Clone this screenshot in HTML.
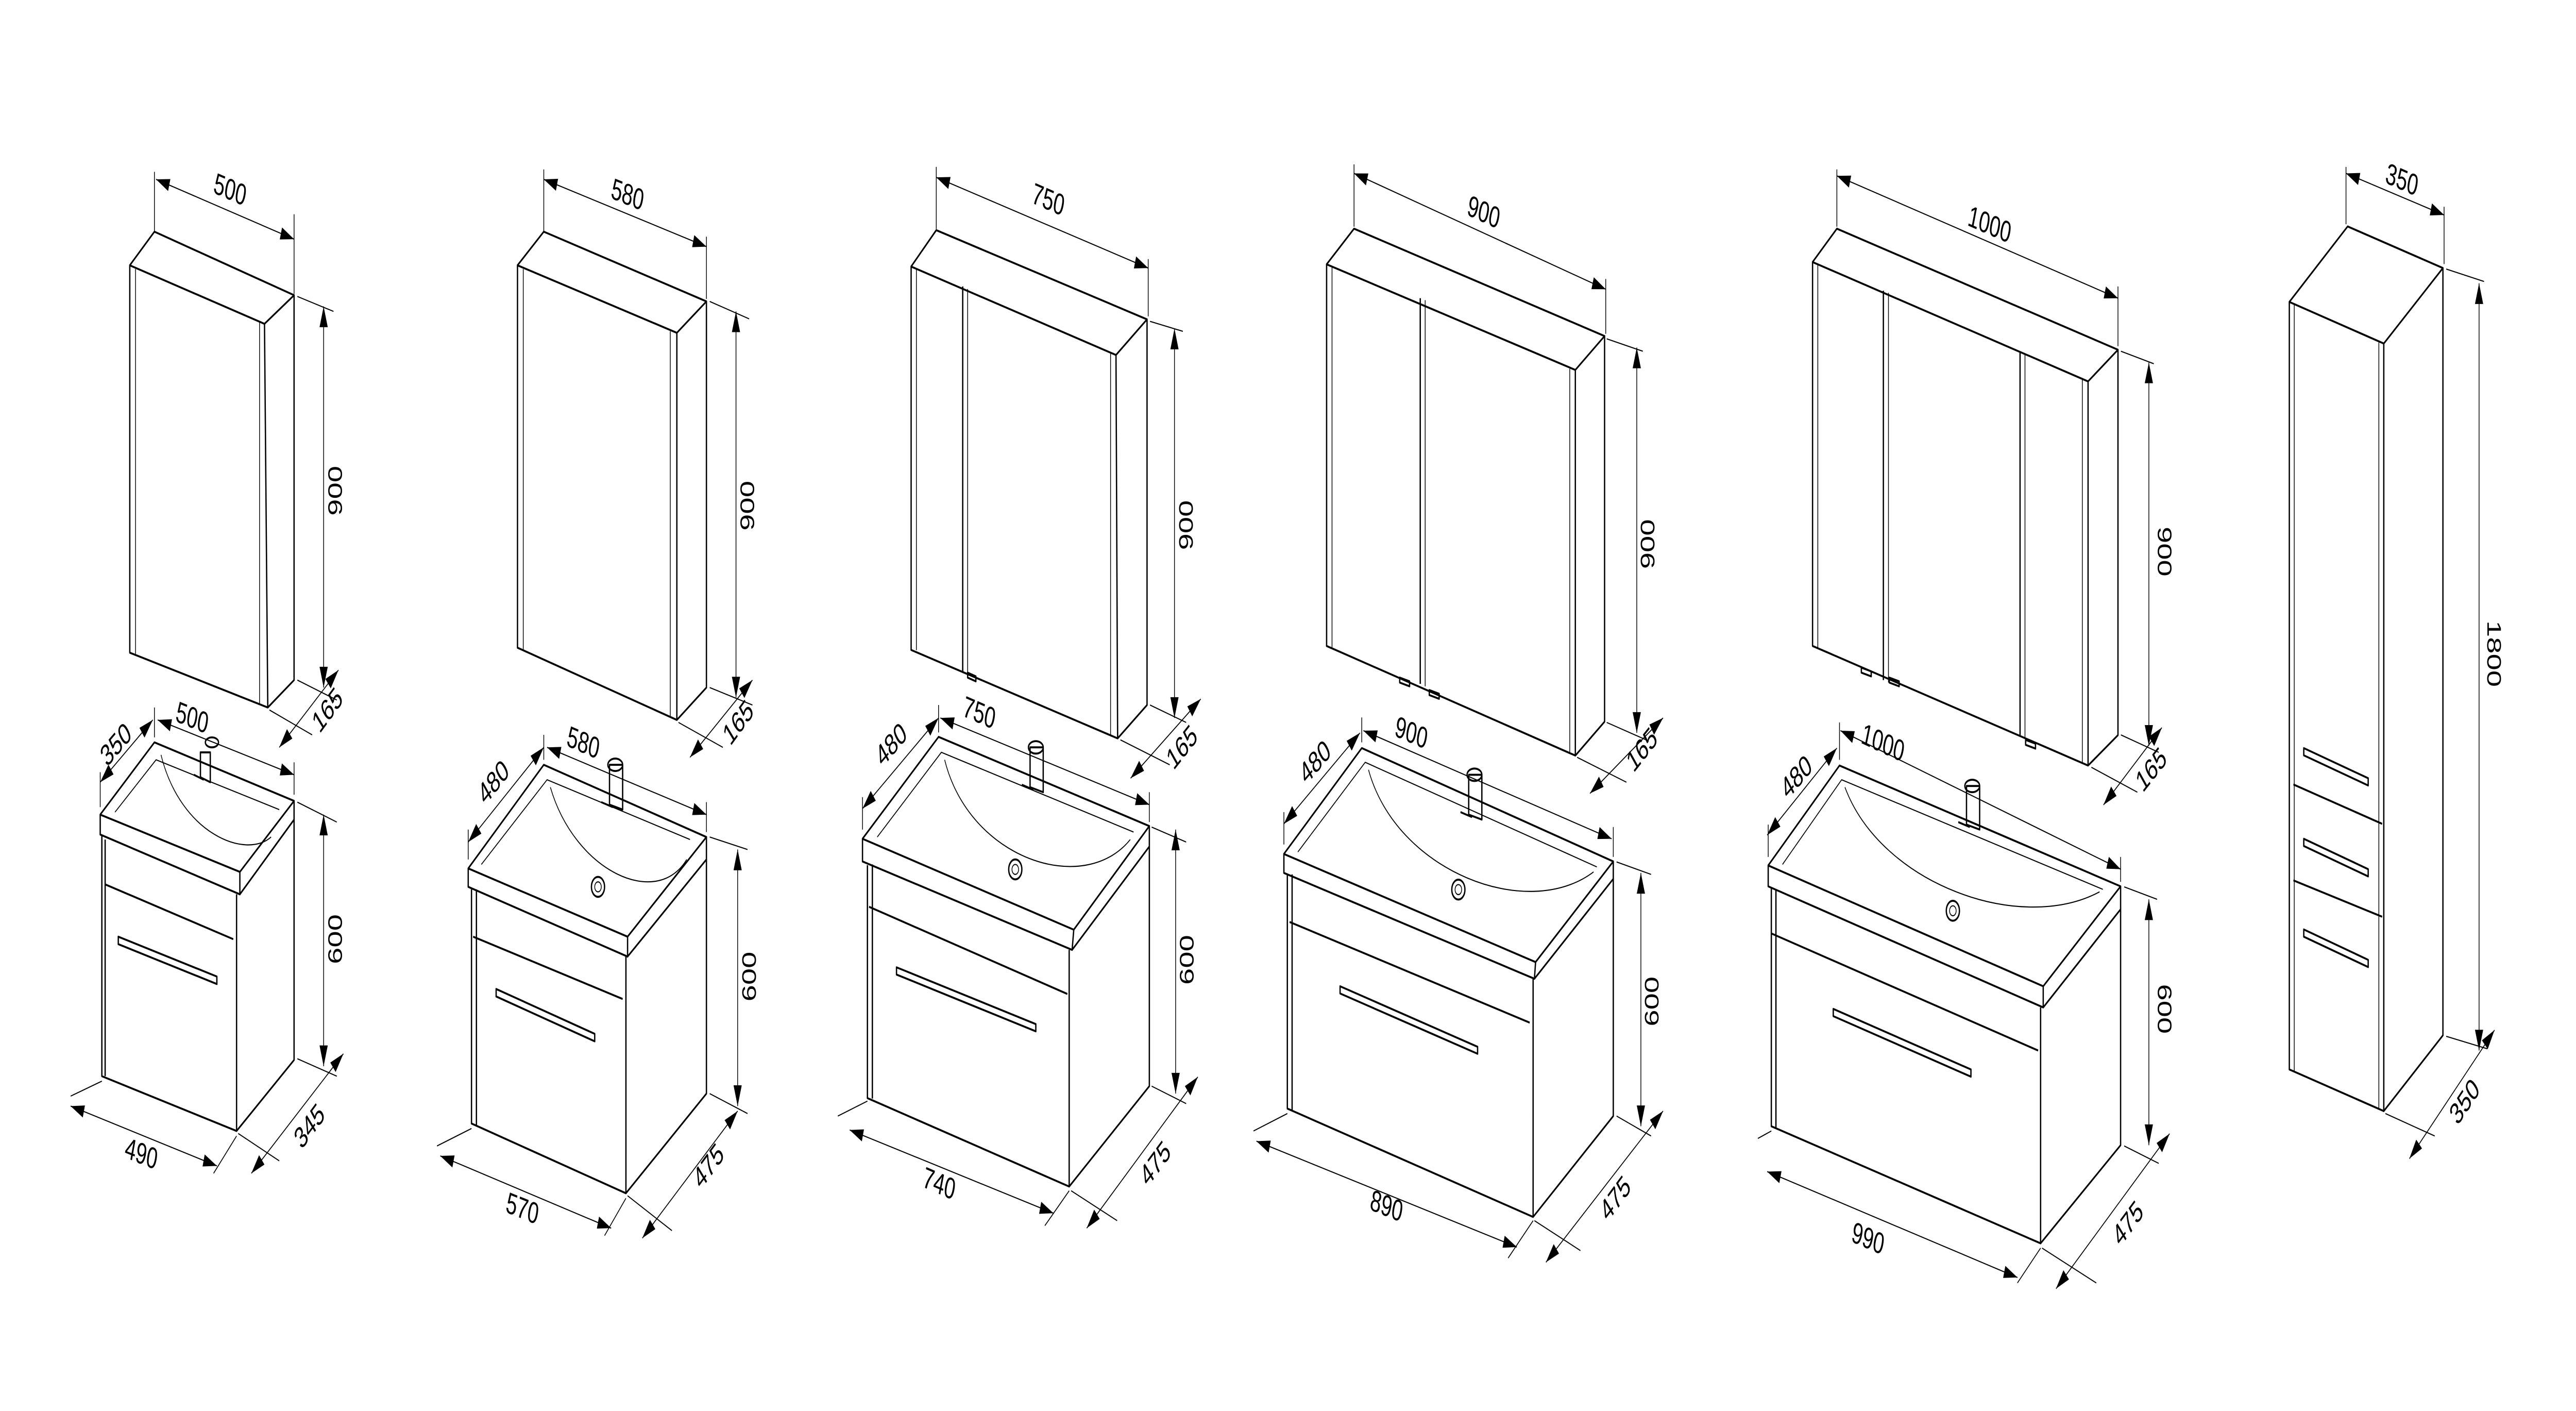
<!DOCTYPE html>
<html><head><meta charset="utf-8"><style>
html,body{margin:0;padding:0;background:#fff;width:100%;height:100%;overflow:hidden;}
svg{display:block;width:100vw;height:100vh;}
text{font-family:"Liberation Sans",sans-serif;font-size:12px;fill:#000;}
.o{fill:none;stroke:#000;stroke-width:0.8;stroke-linejoin:round;}
.t{fill:none;stroke:#000;stroke-width:0.45;}
.d{fill:none;stroke:#000;stroke-width:0.45;marker-start:url(#a);marker-end:url(#a);}
</style></head><body>
<svg viewBox="0 0 1568 566.4" preserveAspectRatio="none" xmlns="http://www.w3.org/2000/svg">
<defs><marker id="a" viewBox="0 0 10 6" refX="10" refY="3" markerWidth="9" markerHeight="5" markerUnits="userSpaceOnUse" orient="auto-start-reverse"><path d="M0,0 L10,3 L0,6 Z" fill="#000"/></marker></defs>
<rect width="1568" height="566.4" fill="#fff"/>

<!-- UNIT 1 mirror -->
<path class="o" d="M79,106.5 L161,130 L163,284 L79,262 Z M79,106.5 L94,93 L179,118.5 L161,130 M179,118.5 L179,273 L163,284"/>
<path class="t" d="M82.5,108 L82.5,262.5 M158,129 L158,283"/>
<path class="t" d="M94,93 L94,69 M179,118 L179,86 M181,119 L203,125 M181,273 L205,281 M164,285 L190,295"/>
<path class="d" d="M95,72 L179,96"/><text transform="translate(139,80) rotate(16)" text-anchor="middle">500</text>
<path class="d" d="M197,123 L197,276"/><text transform="translate(208,197) rotate(-90)" text-anchor="middle">900</text>
<path class="d" d="M170,300 L206,269"/><text transform="translate(202,288) rotate(-42)" text-anchor="middle">165</text>
<!-- UNIT 1 vanity -->
<path class="o" d="M61,327 L94,298 L179,321.5 L146,350 Z M61,327 L61,335 L146,359 L146,350 M146,359 L179,329 L179,321.5 M62,335 L62,432 L144,454 L144,359 M144,454 L179,425.5 L179,329 M64,355 L142,377 M64,337 L64,432"/>
<path class="t" d="M70,326 L95,305 L170,325 M98,303 C110,335 150,345 165,336"/>
<path class="o" d="M72,376 L132,392 L132,395 L72,379 Z"/>
<path class="o" d="M122,302 L122,312 L128,314 L128,302 Z M118,311 L124,313 M125,298 a4,2 0 1,0 8,0 a4,2 0 1,0 -8,0"/>
<path class="t" d="M61,324 L61,310 M94,296 L94,284 M179,319 L179,306 M181,322 L205,330 M181,425 L205,432 M62,434 L43,440 M144,456 L130,471 M145,455 L170,466"/>
<path class="d" d="M61,314 L93,289"/><text transform="translate(73,302) rotate(-38)" text-anchor="middle">350</text>
<path class="d" d="M96,289 L179,311"/><text transform="translate(116,292) rotate(15)" text-anchor="middle">500</text>
<path class="d" d="M197,327 L197,428"/><text transform="translate(208,377) rotate(-90)" text-anchor="middle">600</text>
<path class="d" d="M43,444 L132,468"/><text transform="translate(85,467) rotate(15)" text-anchor="middle">490</text>
<path class="d" d="M153,471 L209,423"/><text transform="translate(191,455) rotate(-42)" text-anchor="middle">345</text>

<!-- UNIT 2 mirror -->
<path class="o" d="M315,106.5 L412,133.6 L412,289 L315,260 Z M315,106.5 L331,93 L430,121 L412,133.6 M430,121 L430,276 L412,289"/>
<path class="t" d="M318.5,108 L318.5,261 M408,133 L408,288"/>
<path class="t" d="M331,93 L331,68 M430,120 L430,95 M432,121 L456,128 M432,276 L458,283 M413,290 L440,300"/>
<path class="d" d="M331,72 L430,99"/><text transform="translate(381,82) rotate(15)" text-anchor="middle">580</text>
<path class="d" d="M448,125 L448,280"/><text transform="translate(459,203) rotate(-90)" text-anchor="middle">900</text>
<path class="d" d="M420,304 L458,273"/><text transform="translate(452,293) rotate(-42)" text-anchor="middle">165</text>
<!-- UNIT 2 vanity -->
<path class="o" d="M285,348.6 L331,307 L430,336 L382,376 Z M285,348.6 L285,356 L382,384 L382,376 M382,384 L430,345 L430,336 M287,357 L287,451 L381,479 L381,384 M381,479 L430,439 L430,345 M288,376 L379,401 M290,357 L290,452"/>
<path class="t" d="M293,347 L333,313 L420,337 M335,316 C350,350 400,365 418,345"/>
<circle class="o" cx="364" cy="356" r="4"/><circle class="t" cx="364" cy="356" r="2"/>
<path class="o" d="M302,397 L362,415 L362,418 L302,400 Z"/>
<path class="o" d="M371,307 L371,323 L379,325 L379,307 Z M366,322 L373,324 M370,307 a4.5,2.5 0 1,0 9,0 a4.5,2.5 0 1,0 -9,0"/>
<path class="t" d="M285,345 L285,333 M331,305 L331,295 M430,334 L430,322 M432,336 L455,341 M432,439 L455,447 M287,453 L266,460 M381,481 L368,496 M382,480 L409,494"/>
<path class="d" d="M285,338 L331,300"/><text transform="translate(303,317) rotate(-40)" text-anchor="middle">480</text>
<path class="d" d="M333,300 L430,327"/><text transform="translate(354,302) rotate(16)" text-anchor="middle">580</text>
<path class="d" d="M449,341 L449,444"/><text transform="translate(460,392) rotate(-90)" text-anchor="middle">600</text>
<path class="d" d="M268,464 L372,493"/><text transform="translate(317,489) rotate(15)" text-anchor="middle">570</text>
<path class="d" d="M391,497 L449,446"/><text transform="translate(434,471) rotate(-42)" text-anchor="middle">475</text>

<!-- UNIT 3 mirror -->
<path class="o" d="M554.6,107 L679.3,142.5 L680.3,296.4 L554.6,260.9 Z M554.6,107 L569.9,92.4 L698.2,128.2 L679.3,142.5 M698.2,128.2 L698.2,283 L680.3,296.4 M586,115 L586,270"/>
<path class="t" d="M557.8,108 L557.8,261 M676,142 L676,295 M589,116 L589,271"/>
<path class="o" d="M589,270 l5,1.5 l0,2 l-5,-1.5 Z"/>
<path class="t" d="M569.9,92 L569.9,67 M698.9,127 L698.9,104 M700,129 L720,133 M700,283 L722,290 M682,297 L712,307"/>
<path class="d" d="M569.9,71.2 L698.9,107.6"/><text transform="translate(637,84) rotate(16)" text-anchor="middle">750</text>
<path class="d" d="M714.9,131.9 L714.9,288.2"/><text transform="translate(726,210.8) rotate(-90)" text-anchor="middle">900</text>
<path class="d" d="M688.2,312.4 L730.9,280.6"/><text transform="translate(722,303) rotate(-40)" text-anchor="middle">165</text>
<!-- UNIT 3 vanity -->
<path class="o" d="M525,336.7 L571.3,295.8 L699.6,331.6 L653.6,373.2 Z M525,336.7 L525,345.8 L652.6,381.3 L653.6,373.2 M652.6,381.3 L699.6,339.8 L699.6,331.6 M528,347.3 L528,440.8 L650.8,476.3 L650.8,381.3 M650.8,476.3 L699.6,436 L699.6,339.8 M529,364 L649.7,399 M531,347 L531,441"/>
<path class="t" d="M534,336 L573,302 L690,334 M575,305 C590,345 660,360 688,337"/>
<circle class="o" cx="618" cy="349" r="4"/><circle class="t" cx="618" cy="349" r="2"/>
<path class="o" d="M545.7,388.3 L630.5,411.1 L630.5,414 L545.7,391.2 Z"/>
<path class="o" d="M627,300 L627,316 L635,318 L635,300 Z M622,315 L629,317 M626,300 a4.5,2.5 0 1,0 9,0 a4.5,2.5 0 1,0 -9,0"/>
<path class="t" d="M525,333 L525,320 M571.3,294 L571.3,283 M699.6,330 L699.6,318 M701,332 L722,338 M701,436 L722,443 M528,442 L510,448 M650.8,478 L636,492 M652,478 L680,490"/>
<path class="d" d="M525,324.6 L571.3,288.2"/><text transform="translate(545,302) rotate(-38)" text-anchor="middle">480</text>
<path class="d" d="M572.4,288.2 L699.6,323"/><text transform="translate(595,290) rotate(16)" text-anchor="middle">750</text>
<path class="d" d="M715.6,333 L715.6,439"/><text transform="translate(726.5,385.3) rotate(-90)" text-anchor="middle">600</text>
<path class="d" d="M517.2,453.6 L641.2,487"/><text transform="translate(570.6,479) rotate(16)" text-anchor="middle">740</text>
<path class="d" d="M661.5,493 L729.1,432.3"/><text transform="translate(706,470) rotate(-42)" text-anchor="middle">475</text>

<!-- UNIT 4 mirror -->
<path class="o" d="M807.5,106.1 L958.9,148.5 L958.9,303.3 L807.5,259.3 Z M807.5,106.1 L824.2,91.8 L976.7,134.9 L958.9,148.5 M976.7,134.9 L976.7,289.7 L958.9,303.3 M864.5,119.7 L864.5,274.5"/>
<path class="t" d="M810.8,107 L810.8,260 M955.5,148 L955.5,302 M867.5,120.5 L867.5,275.5"/>
<path class="o" d="M852,272 l6,1.5 l0,2 l-6,-1.5 Z M870,277 l6,1.5 l0,2 l-6,-1.5 Z"/>
<path class="t" d="M824.2,91 L824.2,66 M977.4,134 L977.4,112 M978,136 L1000,141 M978,290 L1002,297 M960,304 L990,314"/>
<path class="d" d="M824.2,69.6 L977.4,116.1"/><text transform="translate(902,89) rotate(17)" text-anchor="middle">900</text>
<path class="d" d="M996.3,139.5 L996.3,294.2"/><text transform="translate(1007,218.4) rotate(-90)" text-anchor="middle">900</text>
<path class="d" d="M967.8,318.5 L1012.3,288.2"/><text transform="translate(1002,304) rotate(-40)" text-anchor="middle">165</text>
<!-- UNIT 4 vanity -->
<path class="o" d="M781.5,342.8 L828.9,300.3 L982,345.8 L934.7,386.2 Z M781.5,342.8 L781.5,350.4 L934,392.9 L934.7,386.2 M934,392.9 L982,352.8 L982,345.8 M783.6,351 L783.6,445 L933.2,488.5 L933.2,392.9 M933.2,488.5 L982,448 L982,352.8 M785,370.1 L931.1,410.5 M786.5,351 L786.5,446"/>
<path class="t" d="M790,342 L831,306 L972,348 M833,309 C850,350 930,370 970,350"/>
<circle class="o" cx="887.7" cy="357.1" r="4"/><circle class="t" cx="887.7" cy="357.1" r="2"/>
<path class="o" d="M815.7,395.9 L899.4,420.2 L899.4,423 L815.7,398.8 Z"/>
<path class="o" d="M894,311 L894,327 L902,329 L902,311 Z M889,326 L896,328 M893,311 a4.5,2.5 0 1,0 9,0 a4.5,2.5 0 1,0 -9,0"/>
<path class="t" d="M781.5,339 L781.5,326 M828.9,298 L828.9,288 M982,344 L982,332 M984,346 L1005,351 M984,448 L1005,456 M783.6,447 L763,454 M933.2,490 L918,505 M934,490 L962,502"/>
<path class="d" d="M781.5,330.7 L827.8,294.2"/><text transform="translate(803,309) rotate(-38)" text-anchor="middle">480</text>
<path class="d" d="M829.9,293.3 L981,336.7"/><text transform="translate(858,298) rotate(16)" text-anchor="middle">900</text>
<path class="d" d="M998.8,350.4 L998.8,452.1"/><text transform="translate(1009.5,402) rotate(-90)" text-anchor="middle">600</text>
<path class="d" d="M764.8,458.1 L923.3,500.6"/><text transform="translate(843,488) rotate(15)" text-anchor="middle">890</text>
<path class="d" d="M941,506.7 L1012.3,446"/><text transform="translate(986,484) rotate(-42)" text-anchor="middle">475</text>

<!-- UNIT 5 mirror -->
<path class="o" d="M1103.3,105.2 L1271,153.1 L1271,307.3 L1103.3,259.3 Z M1103.3,105.2 L1118.1,91.8 L1289.2,140.4 L1271,153.1 M1289.2,140.4 L1289.2,295.1 L1271,307.3 M1146.4,116.7 L1146.4,273 M1229.6,141.6 L1229.6,295.1"/>
<path class="t" d="M1106.5,106 L1106.5,260 M1267.5,152 L1267.5,306 M1149.5,117.5 L1149.5,274 M1232.6,142.5 L1232.6,296"/>
<path class="o" d="M1133,268 l6,1.5 l0,2 l-6,-1.5 Z M1150,272 l6,1.5 l0,2 l-6,-1.5 Z M1233,297 l6,1.5 l0,2 l-6,-1.5 Z"/>
<path class="t" d="M1118.1,91 L1118.1,68 M1289.2,139 L1289.2,115 M1291,141 L1311,146 M1291,295 L1314,302 M1273,308 L1301,318"/>
<path class="d" d="M1118.1,70.6 L1289.2,119.7"/><text transform="translate(1210,94) rotate(16)" text-anchor="middle">1000</text>
<path class="d" d="M1308,145.5 L1308,299.4"/><text transform="translate(1313.5,221.4) rotate(90)" text-anchor="middle">900</text>
<path class="d" d="M1280.4,323.1 L1315.9,292.1"/><text transform="translate(1312,312) rotate(-40)" text-anchor="middle">165</text>
<!-- UNIT 5 vanity -->
<path class="o" d="M1076.3,347.4 L1119.7,307.3 L1290.8,355.8 L1243.7,395.9 Z M1076.3,347.4 L1076.3,355.8 L1243.7,404.4 L1243.7,395.9 M1243.7,404.4 L1290.8,365 L1290.8,355.8 M1078.2,356.5 L1078.2,452.1 L1242.1,499.1 L1242.1,404.4 M1242.1,499.1 L1290.8,459.7 L1290.8,365 M1078.2,374.7 L1240.6,421.7 M1081,357 L1081,453"/>
<path class="t" d="M1085,347 L1121,313 L1280,357 M1123,316 C1145,355 1230,375 1278,358"/>
<circle class="o" cx="1188.7" cy="365.6" r="4"/><circle class="t" cx="1188.7" cy="365.6" r="2"/>
<path class="o" d="M1115.9,405 L1199.7,429.3 L1199.7,432.2 L1115.9,407.9 Z"/>
<path class="o" d="M1197,315.5 L1197,331 L1205,333 L1205,315.5 Z M1192,330 L1199,332 M1196,315.5 a4.5,2.5 0 1,0 9,0 a4.5,2.5 0 1,0 -9,0"/>
<path class="t" d="M1076.3,344 L1076.3,331 M1119.7,305 L1119.7,290 M1290.8,354 L1290.8,344 M1293,356 L1313,361 M1293,460 L1314,467 M1078.2,454 L1070,457 M1242.1,501 L1228,515 M1243,501 L1276,515"/>
<path class="d" d="M1075.7,335.2 L1118.1,300.3"/><text transform="translate(1096,315) rotate(-38)" text-anchor="middle">480</text>
<path class="d" d="M1120.3,293.3 L1290.8,348.9"/><text transform="translate(1145,302) rotate(17)" text-anchor="middle">1000</text>
<path class="d" d="M1308,361 L1308,459.7"/><text transform="translate(1313.5,405) rotate(90)" text-anchor="middle">600</text>
<path class="d" d="M1075.7,470.3 L1228,512.8"/><text transform="translate(1136,501) rotate(16)" text-anchor="middle">990</text>
<path class="d" d="M1251.5,517.3 L1320.6,455.1"/><text transform="translate(1298,494) rotate(-42)" text-anchor="middle">475</text>

<!-- UNIT 6 tall -->
<path class="o" d="M1393.5,121.2 L1451,137.9 L1451,446 L1393.5,429.3 Z M1393.5,121.2 L1429,90.9 L1487,107.6 L1451,137.9 M1487,107.6 L1487,415.6 L1451,446 M1396,314.9 L1450,330.7 M1396,353.4 L1450,368"/>
<path class="t" d="M1396.5,122 L1396.5,430 M1448,137.5 L1448,445"/>
<path class="o" d="M1402.3,300.3 L1441.5,312.4 L1441.5,315.3 L1402.3,303.2 Z M1402.3,336.7 L1441.5,348.9 L1441.5,351.8 L1402.3,339.6 Z M1402.3,373.1 L1441.5,385.3 L1441.5,388.2 L1402.3,376 Z"/>
<path class="t" d="M1428,90 L1428,67 M1487.7,106 L1487.7,83 M1489,108 L1512,113 M1489,416 L1514,421 M1452,447 L1482,456"/>
<path class="d" d="M1428,69.6 L1487.7,86.3"/><text transform="translate(1461,76) rotate(16)" text-anchor="middle">350</text>
<path class="d" d="M1509,113.7 L1509,421.7"/><text transform="translate(1514,262.4) rotate(90)" text-anchor="middle">1800</text>
<path class="d" d="M1466.6,465.1 L1518.4,413.5"/><text transform="translate(1503,445) rotate(-45)" text-anchor="middle">350</text>
</svg>
</body></html>
